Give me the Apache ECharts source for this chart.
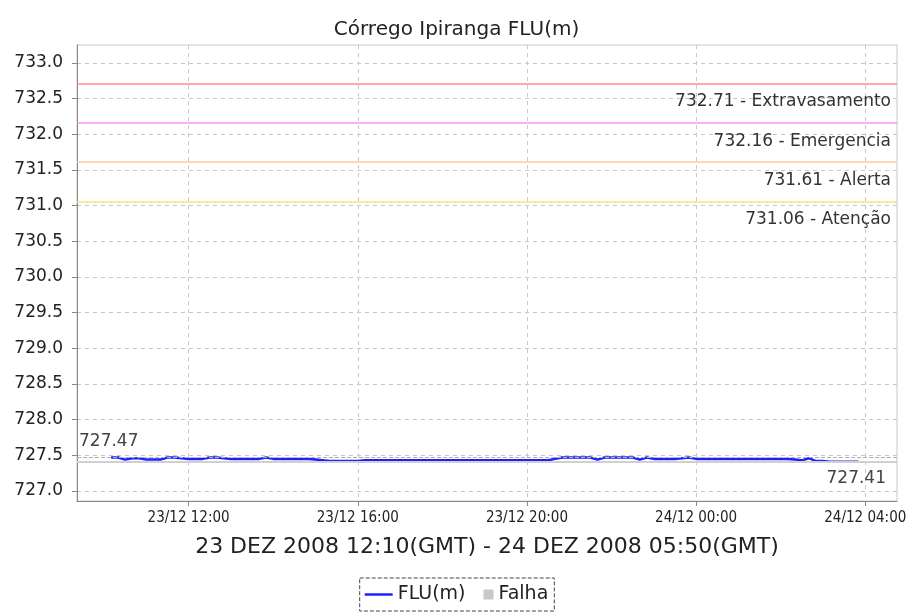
<!DOCTYPE html>
<html><head><meta charset="utf-8">
<script src="https://cdn.jsdelivr.net/npm/echarts@6/dist/echarts.min.js"></script>
<style>html,body{margin:0;padding:0;background:#fff}#c{width:913px;height:615px}</style>
</head><body><div id="c"></div>
<script>
var titleText = 'Córrego Ipiranga FLU(m)';
var xAxisName = '23 DEZ 2008 12:10(GMT) - 24 DEZ 2008 05:50(GMT)';
var times = [
'23/12 10:10','23/12 10:20','23/12 10:30','23/12 10:40','23/12 10:50','23/12 11:00','23/12 11:10','23/12 11:20','23/12 11:30','23/12 11:40','23/12 11:50',
'23/12 12:00','23/12 12:10','23/12 12:20','23/12 12:30','23/12 12:40','23/12 12:50','23/12 13:00','23/12 13:10','23/12 13:20','23/12 13:30','23/12 13:40','23/12 13:50',
'23/12 14:00','23/12 14:10','23/12 14:20','23/12 14:30','23/12 14:40','23/12 14:50','23/12 15:00','23/12 15:10','23/12 15:20','23/12 15:30','23/12 15:40','23/12 15:50',
'23/12 16:00','23/12 16:10','23/12 16:20','23/12 16:30','23/12 16:40','23/12 16:50','23/12 17:00','23/12 17:10','23/12 17:20','23/12 17:30','23/12 17:40','23/12 17:50',
'23/12 18:00','23/12 18:10','23/12 18:20','23/12 18:30','23/12 18:40','23/12 18:50','23/12 19:00','23/12 19:10','23/12 19:20','23/12 19:30','23/12 19:40','23/12 19:50',
'23/12 20:00','23/12 20:10','23/12 20:20','23/12 20:30','23/12 20:40','23/12 20:50','23/12 21:00','23/12 21:10','23/12 21:20','23/12 21:30','23/12 21:40','23/12 21:50',
'23/12 22:00','23/12 22:10','23/12 22:20','23/12 22:30','23/12 22:40','23/12 22:50','23/12 23:00','23/12 23:10','23/12 23:20','23/12 23:30','23/12 23:40','23/12 23:50',
'24/12 00:00','24/12 00:10','24/12 00:20','24/12 00:30','24/12 00:40','24/12 00:50','24/12 01:00','24/12 01:10','24/12 01:20','24/12 01:30','24/12 01:40','24/12 01:50',
'24/12 02:00','24/12 02:10','24/12 02:20','24/12 02:30','24/12 02:40','24/12 02:50','24/12 03:00','24/12 03:10','24/12 03:20','24/12 03:30','24/12 03:40','24/12 03:50'
];
var fluValues = [
727.47,727.47,727.44,727.46,727.46,727.44,727.44,727.44,727.47,727.47,727.46,
727.45,727.45,727.45,727.47,727.47,727.46,727.45,727.45,727.45,727.45,727.45,727.47,
727.45,727.45,727.45,727.45,727.45,727.45,727.44,727.43,727.42,727.42,727.42,727.42,
727.42,727.43,727.43,727.43,727.43,727.43,727.43,727.43,727.43,727.43,727.43,727.43,
727.43,727.43,727.43,727.43,727.43,727.43,727.43,727.43,727.43,727.43,727.43,727.43,
727.43,727.43,727.43,727.43,727.45,727.47,727.47,727.47,727.47,727.47,727.44,727.47,
727.47,727.47,727.47,727.47,727.44,727.47,727.45,727.45,727.45,727.45,727.46,727.47,
727.45,727.45,727.45,727.45,727.45,727.45,727.45,727.45,727.45,727.45,727.45,727.45,
727.45,727.45,727.44,727.43,727.46,727.42,727.42,727.41,727.41,727.41,727.41,727.41
];
var thresholdValues = [732.71, 732.16, 731.61, 731.06];
var thresholdNames = ['Extravasamento', 'Emergencia', 'Alerta', 'Atenção'];
var maxValue = 727.47;
var minValue = 727.41;
var yTickValues = [727.0,727.5,728.0,728.5,729.0,729.5,730.0,730.5,731.0,731.5,732.0,732.5,733.0];
var xTickHours = [12, 16, 20, 24, 28];

function toHours(s) {
  var day = parseInt(s.slice(0,2),10);
  var hh = parseInt(s.slice(6,8),10);
  var mm = parseInt(s.slice(9,11),10);
  return (day - 23) * 24 + hh + mm / 60;
}
var seriesData = times.map(function (t, i) { return [toHours(t), fluValues[i]]; });
function fmtX(v) {
  var day = v < 24 ? '23/12' : '24/12';
  var h = Math.round(v % 24);
  return day + ' ' + (h < 10 ? '0' + h : h) + ':00';
}
var thColors = ['#ff8c8c', '#ff8cff', '#ffc896', '#f3e47c'];
var thLines = thresholdValues.map(function (v, i) {
  return {
    yAxis: v,
    lineStyle: { color: thColors[i], width: 1.5, type: 'solid' },
    label: { show: true, position: 'insideEndBottom', distance: [6, 10],
      formatter: v.toFixed(2) + ' - ' + thresholdNames[i],
      color: '#333', fontSize: 17, fontFamily: 'DejaVu Sans' }
  };
});
thLines.push({ yAxis: maxValue, lineStyle: { color: '#b0b0b0', width: 1, type: 'dashed' },
  label: { show: true, position: 'insideStartTop', distance: [2, 7], formatter: maxValue.toFixed(2), color: '#444', fontSize: 17, fontFamily: 'DejaVu Sans' } });
thLines.push({ yAxis: minValue, lineStyle: { color: '#d0d0d0', width: 2, type: 'solid' },
  label: { show: true, position: 'insideEndBottom', distance: [11, 8], formatter: minValue.toFixed(2), color: '#444', fontSize: 17, fontFamily: 'DejaVu Sans' } });

var chart = echarts.init(document.getElementById('c'), null, { renderer: 'canvas' });
chart.setOption({
  animation: false,
  backgroundColor: '#fff',
  title: { text: titleText, left: 'center', top: 15,
    textStyle: { fontSize: 20, fontWeight: 'normal', color: '#222', fontFamily: 'DejaVu Sans' } },
  grid: { left: 77, right: 16, top: 45, bottom: 114, show: true, borderColor: '#c8c8c8', borderWidth: 1 },
  legend: { bottom: 4, left: 'center',
    data: [
      { name: 'FLU(m)', icon: 'path://M0,4L28,4L28,6.5L0,6.5Z' },
      { name: 'Falha', icon: 'path://M0,0L0.05,0L0.05,0.05Z M18,0L28,0L28,10L18,10Z M27.95,9.95L28,9.95L28,10Z' }
    ],
    itemWidth: 28, itemHeight: 10, itemGap: 0, borderColor: '#444', borderWidth: 1, borderType: 'dashed',
    padding: [7, 6, 7, 5], textStyle: { fontSize: 19, color: '#222', fontFamily: 'DejaVu Sans' } },
  xAxis: {
    type: 'value', min: 9.36, max: 28.75,
    name: xAxisName, nameLocation: 'middle', nameGap: 35,
    nameTextStyle: { fontSize: 22, color: '#222', fontFamily: 'DejaVu Sans' },
    axisLine: { show: true, lineStyle: { color: '#888' } },
    axisTick: { show: true, customValues: xTickHours, length: 5, lineStyle: { color: '#888' } },
    axisLabel: { customValues: xTickHours, formatter: fmtX, fontSize: 15, color: '#222', fontFamily: 'DejaVu Sans Condensed', margin: 10 },
    splitLine: { show: true, lineStyle: { color: '#c8c8c8', type: [4, 4] } }
  },
  yAxis: {
    type: 'value', min: 726.86, max: 733.25,
    axisLine: { show: true, lineStyle: { color: '#888' } },
    axisTick: { show: true, customValues: yTickValues, length: 5, lineStyle: { color: '#888' } },
    axisLabel: { customValues: yTickValues, formatter: function (v) { return v.toFixed(1); }, fontSize: 17, color: '#222', fontFamily: 'DejaVu Sans', margin: 14 },
    splitLine: { show: true, lineStyle: { color: '#c8c8c8', type: [4, 4] } }
  },
  series: [
    { name: 'FLU(m)', type: 'line', data: seriesData, showSymbol: false, color: '#1f1fff',
      lineStyle: { width: 2.5, color: '#1f1fff' },
      markLine: { silent: true, symbol: ['none', 'none'], data: thLines } },
    { name: 'Falha', type: 'line', data: [], color: '#c8c8c8' }
  ]
});
</script></body></html>
